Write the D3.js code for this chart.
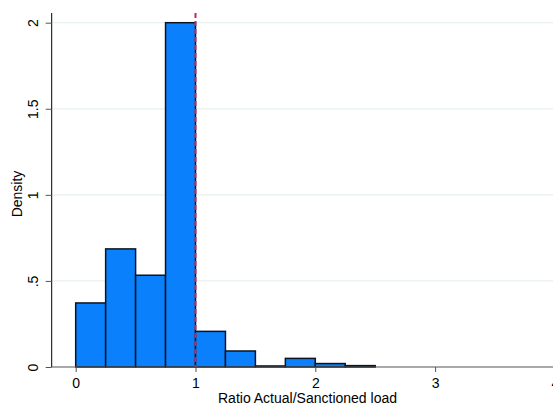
<!DOCTYPE html>
<html>
<head>
<meta charset="utf-8">
<script src="https://cdn.jsdelivr.net/npm/d3@7"></script>
<style>
  body { margin: 0; background: #fff; }
  svg { display: block; font-family: "Liberation Sans", Arial, Helvetica, sans-serif; }
</style>
</head>
<body>
<script>
// histogram bins (width 0.25), density values
const binStarts = [0, 0.25, 0.5, 0.75, 1, 1.25, 1.5, 1.75, 2, 2.25];
const binWidth = 0.25;
const densities = [0.372, 0.686, 0.533, 2.0, 0.207, 0.093, 0.006, 0.05, 0.02, 0.008];
const xTicks = [0, 1, 2, 3, 4];
const yTicks = [0, 0.5, 1, 1.5, 2];
const yTickLabels = ["0", ".5", "1", "1.5", "2"];
const refLine = 1;

const width = 553, height = 407;
const plot = {left: 51.7, right: 553, top: 13, bottom: 367};
const fontSize = "14px";

const svg = d3.select("body").append("svg")
    .attr("width", width)
    .attr("height", height);

const x = d3.scaleLinear().domain([0, 4]).range([75.7, 554.9]);
const y = d3.scaleLinear().domain([0, 2]).range([367, 22.7]);

// grid lines
svg.append("g")
    .selectAll("line")
    .data(yTicks.slice(1))
    .enter().append("line")
    .attr("x1", plot.left).attr("x2", plot.right)
    .attr("y1", d => y(d)).attr("y2", d => y(d))
    .style("stroke", "#e8f0f1")
    .style("stroke-width", 1.3);

// bars
const bins = binStarts.map((s, i) => ({x0: s, x1: s + binWidth, v: densities[i]}));
svg.append("g")
    .selectAll("rect")
    .data(bins)
    .enter().append("rect")
    .attr("x", d => x(d.x0))
    .attr("y", d => y(d.v))
    .attr("width", d => x(d.x1) - x(d.x0))
    .attr("height", d => y(0) - y(d.v))
    .style("fill", "#0a80fd")
    .style("stroke", "#0b1420")
    .style("stroke-width", 1.5);

// reference line
svg.append("line")
    .attr("x1", x(refLine)).attr("x2", x(refLine))
    .attr("y1", plot.top).attr("y2", y(0))
    .style("stroke", "#c8245a")
    .style("stroke-width", 2)
    .style("stroke-dasharray", "5,3");

// axis lines
svg.append("line")
    .attr("x1", plot.left).attr("x2", plot.left)
    .attr("y1", plot.top).attr("y2", y(0))
    .style("stroke", "#000")
    .style("stroke-width", 1);
svg.append("line")
    .attr("x1", plot.left).attr("x2", plot.right)
    .attr("y1", y(0)).attr("y2", y(0))
    .style("stroke", "#555")
    .style("stroke-width", 1.2);

// x axis
const xAxis = svg.append("g")
    .attr("transform", `translate(0,${y(0)})`)
    .call(d3.axisBottom(x).tickValues(xTicks).tickSize(5).tickFormat(d3.format("d")));
xAxis.select(".domain").remove();
xAxis.selectAll("line").style("stroke", "#555");
xAxis.selectAll("text")
    .attr("y", 21).attr("dy", 0)
    .style("font-size", fontSize).style("font-family", null).style("fill", "#000");

// y axis
const yAxis = svg.append("g")
    .attr("transform", `translate(${plot.left},0)`)
    .call(d3.axisLeft(y).tickValues(yTicks).tickSize(6).tickFormat((d, i) => yTickLabels[i]));
yAxis.select(".domain").remove();
yAxis.selectAll("line").style("stroke", "#555");
yAxis.selectAll("text")
    .attr("transform", "rotate(-90)")
    .attr("x", 0).attr("y", -14.2).attr("dy", 0)
    .style("text-anchor", "middle")
    .style("font-size", fontSize).style("font-family", null).style("fill", "#000");

// titles
svg.append("text")
    .attr("x", 307.5).attr("y", 403)
    .style("text-anchor", "middle")
    .style("font-size", fontSize)
    .text("Ratio Actual/Sanctioned load");

svg.append("text")
    .attr("transform", "translate(22,194) rotate(-90)")
    .style("text-anchor", "middle")
    .style("font-size", fontSize)
    .text("Density");
</script>
</body>
</html>
